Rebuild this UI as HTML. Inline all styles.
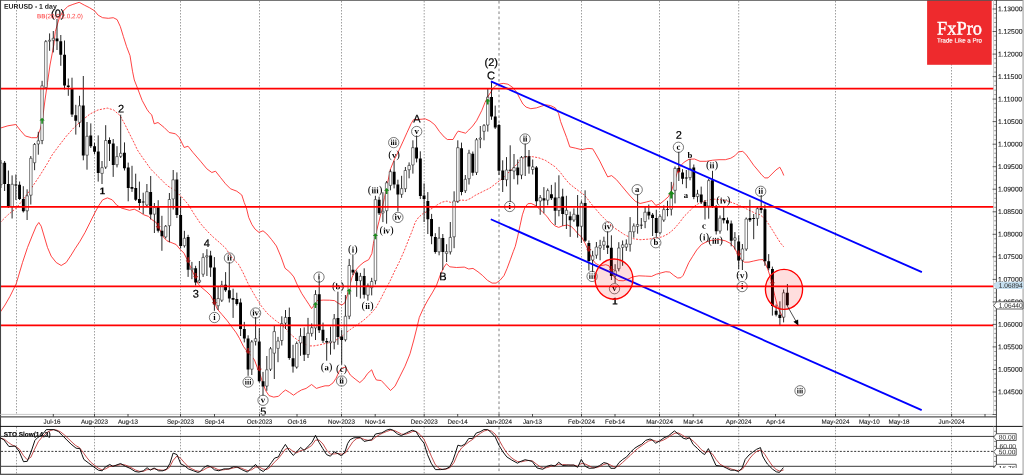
<!DOCTYPE html>
<html lang="en"><head><meta charset="utf-8"><title>EURUSD - 1 day</title><style>html,body{margin:0;padding:0;background:#fff;overflow:hidden}body{width:1024px;height:475px;position:relative}</style></head><body>
<svg width="1024" height="475" viewBox="0 0 1024 475" text-rendering="geometricPrecision" style="display:block;position:absolute;left:0;top:0">
<rect width="1024" height="475" fill="#fff"/>
<g stroke="#777" stroke-width="0.7" stroke-dasharray="1.5 1.5" fill="none">
<path d="M16.5 1V414.4 M16.5 426.9V473.7"/>
<path d="M94.5 1V414.4 M94.5 426.9V473.7"/>
<path d="M180.5 1V414.4 M180.5 426.9V473.7"/>
<path d="M259.5 1V414.4 M259.5 426.9V473.7"/>
<path d="M341.5 1V414.4 M341.5 426.9V473.7"/>
<path d="M424.2 1V414.4 M424.2 426.9V473.7"/>
<path stroke="#606060" stroke-width="0.8" stroke-dasharray="2.6 2.6" d="M499 1V414.4 M499 426.9V473.7"/>
<path d="M581.5 1V414.4 M581.5 426.9V473.7"/>
<path d="M659.5 1V414.4 M659.5 426.9V473.7"/>
<path d="M738.7 1V414.4 M738.7 426.9V473.7"/>
<path d="M835.5 1V414.4 M835.5 426.9V473.7"/>
<path d="M951.5 1V414.4 M951.5 426.9V473.7"/>
</g>
<g fill="none" stroke="#f22" stroke-width="0.85" stroke-linejoin="round">
<polyline points="0,128.2 7.9,125.8 15.8,124.5 20.5,130.5 25.3,136 31.6,137.7 37.1,137.7 40.3,129 42.3,120.8 45,100 47.5,82.5 50,65 53.8,45 55.3,31.6 59,18.9 62.8,11.4 67.9,6.3 72.9,4.4 79.2,2.3 84.3,5.1 89.3,7.6 94.4,10.7 98.2,15.2 102.6,17.7 108.3,18.3 113.3,17.7 117.1,19.6 120.3,26.5 123.4,36.6 126.6,46.7 130,55.6 132.5,71.2 134.3,80 137.4,87.9 142.2,100.5 146.9,109.2 149.2,112.5 151.7,114.8 154.2,123.8 158,122.5 164.2,127.5 169.2,132.5 175.5,133.8 179.2,137.5 184.2,147.5 188,146.2 193,152.5 200.5,161.2 206.8,168.8 211.8,172.5 215.5,171.2 220.5,177.5 225.5,183.8 230.5,188.8 236.8,191.2 241.8,195 244.2,202.5 246.4,207.9 248.7,217.4 251.9,224.5 255.1,229.2 259,232.4 263,230.8 266.9,234 271.6,239.6 276.4,246 281.1,257.1 285,268.2 289.8,272.1 293.8,276.9 296.9,284 301.7,293.4 305.8,299.7 309,304.5 311.6,308.6 315,303.9 317.2,300.5 323.2,300.1 329.5,300.2 334.5,300.6 338.2,303.2 341.8,305.1 345,302.6 347.4,294.5 349.7,285.8 352.1,277.1 355.3,270.8 359.2,266.1 364,262.1 368.7,259.7 371.9,253.5 373.4,243.4 375.8,234 379,221.3 382.1,208.7 384.5,197.6 386.9,186 390.6,168.7 394.5,159.2 399.2,149.8 403.2,141.1 407.1,132.4 411.1,123.7 413.5,119.7 419,119.4 425.3,118.9 430,121 434.8,124.8 439.5,131.6 444.3,137.1 447.4,139.5 453,139.5 456.1,134 458.2,131.1 461.6,132.1 465.6,133.2 468.8,130 472.7,126 476.7,120.5 479.5,115 481.9,110.3 485,102.4 488.2,96.1 491.3,91.3 494.5,86.6 498.4,84.2 503.2,83.4 507.9,84.2 512.7,87.4 516.6,92.1 519.8,98.4 522.9,104 526.1,107.1 530.8,108.7 536.4,107.9 541.1,106.3 545.8,104.8 550.6,105.6 555.3,107.9 558.5,113.4 560.6,121.5 563.4,129 566.6,137.4 569.8,146.9 575.3,148.1 581.6,149.7 587.9,148.4 592.7,148.8 595.8,154 599.8,161.1 603.7,169 607.7,176.9 611.6,175.6 616.4,179.6 621.1,185.2 625.9,191 630.2,196 635.3,201.3 640.1,203.5 646.3,202 651.8,200.6 655.8,205.4 660,203.8 664.5,200.2 668.4,196.7 671.6,190.6 674,182.7 677.1,173.2 680.3,166.1 684.2,162.1 689,159.3 694.5,159 700,161.3 706.4,161.3 712.7,160.2 719,159.7 725.3,159.7 730.8,158.2 734.8,155.8 738.7,151.8 742.7,151.4 745.8,154.2 749.8,159.7 753.7,165.3 757.7,170 761.6,174.8 764.8,177.9 768,177.9 771.9,174 775.9,170 779.8,167.2 782.2,171.6 783.8,175.5"/>
<polyline points="0,312.5 5,305 10,296.3 16.2,283.8 22.5,262.5 27.5,247.5 32.5,235 36.2,226.2 38.8,222.5 41.2,226.2 43.8,235 47.5,247.5 51.2,256.2 56.2,262.5 61.2,265.5 66.2,262.5 71.2,255 75,248.8 80,241.2 85,232.5 90,222.5 95,212.5 98.8,205.5 102.7,199.8 107.4,197.9 112.2,199.8 116.9,205.3 121.6,208.1 129.5,210.3 134.3,209.2 139,211.6 143.8,214.8 148.5,216.4 151.7,219.5 156.4,222.7 160,230 163.8,237.5 167,240.8 172.1,242.9 176.1,244.5 180,249.2 184,253.2 187.9,261.1 191.1,268.2 195,276.9 198.2,284 202.1,287.9 206.9,291.9 210.6,295.6 214.2,302.1 217.4,309.2 222.1,314.7 226.9,320.3 231.6,326.6 236.3,332.9 239.5,338.4 243.4,346.3 247.4,351.9 251.3,355.8 254.5,360 257.1,367.1 260.3,375 262.7,382.9 265.8,390.8 269,395.6 273.7,397.1 278.5,396.3 282.4,392.4 285.6,390 289.5,392.4 293.5,395.2 297.4,392.4 301.4,390 306.1,388.4 311.6,384.5 316.4,388.4 321.1,386.9 325.1,385.8 329,385.8 333,382.9 336.1,378.2 339.3,371.1 342.4,367.9 345.6,367.1 348,371.1 350.3,375 355.1,379 359.8,382.6 363.8,379 367.7,373.4 371.7,369.8 374,375.8 376.4,380 381.2,380.5 385,384.5 390.5,390.5 395,386.2 400,376.2 405,366.2 410,353.8 413.8,340 416.8,328 419.3,317.4 423.2,308.7 427.9,300 432.7,292.1 436.6,285 440.6,274 443.7,267.6 446.4,263.7 449.8,266.8 456.4,267.5 464.3,267.1 468.7,269 473,268.4 478,271.8 482.7,275.6 487.4,280.3 492.1,283.1 496.1,283.1 500,280.3 504,275.6 507.1,268.4 510.3,259.8 513.3,251.5 515.3,246.3 517.6,236.9 520,225.8 522.4,214.8 524.8,207.6 527.9,203.7 531.1,203.4 535,205.3 539,208.4 542.9,212.4 546.9,216.3 550.8,221.9 554.8,225.8 558.7,227.4 562.7,225.8 567.4,225 571.3,226.6 575.3,230.5 578.5,234.5 581.6,237 585.3,243.7 588.4,251 591.6,258 595.5,263.4 600.3,265.8 605.8,264.7 609,265.8 612.1,272.9 614.5,277.7 618.5,280.5 623.2,280.8 627.9,279.2 632.7,276.9 639,275.8 645.3,276.1 651.6,276.4 656.4,274.2 661.1,272.9 665.8,271.7 669.8,272.1 673.7,275.3 677.7,278 680.9,277.7 683.2,275.3 685.6,269.8 688.8,262.6 692.7,256.3 696.7,250 701.4,244.6 706.9,241.6 711.7,240.3 719,239.5 725.3,240.8 730,243.2 734,247.1 737.4,253.5 740.8,259 744.5,262.2 749,262.1 753.7,261 759.2,259.8 763,259.6 765.3,263.4 767.7,269 770,276.1 772.4,285.5 774.8,295.8 777.1,304.5 779.5,310.8 781.9,315.6 783.5,317.9"/>
<polyline stroke-dasharray="2 1.4" points="0,222.7 7.9,214.8 15.8,208.5 23.7,199 31.6,187.9 39.5,176.1 47.4,163.4 52.1,155 58.5,146.3 66.4,136.1 74.2,127.4 82.1,120.3 90,114 97.9,110 107.4,108.1 113.7,110 120,115.5 124.8,124.2 129.5,133.7 134.3,143.2 137.4,150 142.2,157.1 150.1,168.2 151.6,170 159.5,177.9 167.4,185.8 175.3,190.5 181.6,196.9 187.9,204 194.2,214.2 200.6,223.7 206.9,230.8 213.2,237.1 219.5,242.5 225.8,248.4 232.1,257.9 238.5,264.2 243.2,272.9 247.9,283.2 252.7,291.9 257.4,299.8 261.4,306.1 263.2,308.4 267.9,314 274.3,319.5 280.6,324.2 286.1,329 290.8,334.5 296.4,339.2 302.7,343.2 309,345.9 313.7,345.9 320,344.8 326.4,343.2 332.7,342.4 337.4,339.2 342.2,336.1 346.9,332.1 351.7,328.5 356.9,325 363.2,320.6 369.5,315 375.8,307.9 380.6,299.2 385.3,289.8 390,281.1 394.8,270.8 399.5,261.5 404.3,250.6 409,238.7 412.2,230.8 415.3,222.1 418.5,217.4 423.2,213.4 427.9,211.1 432.7,207.9 437.4,204.7 442.2,202.1 446.9,201.1 451.6,202.7 456.4,201.6 461.1,200 465.9,200.5 470.6,198.4 475.3,195.3 480.1,192.9 484.8,190.5 490,188 496.3,183.2 502.6,178.5 509,172.1 515.3,165.8 521.6,158.7 527.1,156.3 532.7,156.7 539,157.9 545.3,160.3 550,163.4 554.8,166.6 559.5,171.3 564.3,177.7 569,183.4 573.7,187.1 578.5,190.8 583.2,194 586.4,197.4 591.1,203.7 595.8,209.2 600.6,214.8 605.3,219.5 610.1,224.2 614.8,228.2 619.5,231.3 624.3,234.5 629,236.9 633.8,238.8 640.1,239.7 647.9,239.2 655.8,238 662.1,236.9 668.4,233.7 674,229 679.5,222.6 684.2,216.3 689,211.6 693.7,206.8 698.4,203.7 703.2,201.6 709.5,199.7 714.3,199.2 720.6,199.7 726.9,200.8 733.2,203 739.5,205.6 745.8,208.6 752.2,211.7 757,214 760,214.7 764.8,218.7 768.7,224.2 772.7,230.5 776.6,236.9 780.6,243.2 783.7,246.8"/>
</g>
<path d="M0.9 160V188M4.6 161V191M8.4 170.5V208M12.1 175.4V218.5M15.9 174.5V200M19.6 181.5V200M23.3 186.2V212.5M27.1 189.3V220M30.8 156V204.5M34.6 143V170.2M38.3 131.8V154.7M42.1 80.8V144.2M45.8 40V89M49.6 33.4V50.8M53.3 31V52.4M57 19V50M60.8 35V65.8M64.5 40.5V89.5M68.3 78.5V95.8M72 77.7V117M75.8 104.8V134.6M79.5 95.8V127.2M83.3 76V160.3M87 122V169.7M90.8 123.4V148M94.5 143V154M98.2 135.4V181.6M102 161V184M105.7 125.2V169M109.5 137.4V161M113.2 139V176.9M117 146.2V167.4M120.7 114.7V158M124.5 142.4V170.5M128.2 162.6V201.3M132 165.8V191.9M135.7 173.7V201M139.4 181.6V210M143.2 192.7V214M146.9 184V206.5M150.7 176V219.5M154.4 203V233M158.2 200.2V232.5M161.9 215.8V250.8M165.7 225V238.5M169.4 193V242.3M173.2 170V209.5M176.9 172.4V218M180.6 197V248.4M184.4 230.8V247.6M188.1 234.8V276.9M191.9 261.9V279.2M195.6 265.8V285.5M199.4 261V283.2M203.1 253.2V276.9M206.9 249.2V276M210.6 250.8V276.9M214.4 257.1V310.8M218.1 286.3V310M221.8 280.8V302M225.6 272.1V291.9M229.3 261.9V302.5M233.1 288.7V317.9M236.8 292.7V305.5M240.6 298.5V336M244.3 321.9V342.4M248.1 335.3V375.8M251.8 340V375M255.6 317V345.5M259.3 328.2V382.5M263 371.9V395.6M266.8 356V390.8M270.5 347V371M274.3 325.8V379M278 336.9V362.2M281.8 316.3V345.5M285.5 310V329M289.3 307.6V359.8M293 344.8V372.6M296.7 341.5V368.7M300.5 328.2V355.8M304.2 327.4V361M308 317.9V358M311.7 323.4V336.5M315.5 290.2V340M319.2 280.3V333M323 322.6V343M326.7 338V360.7M330.5 326.6V354.7M334.2 314V349.3M337.9 291.7V344.8M341.7 330V364.6M345.4 295V341.5M349.2 258.9V319.2M352.9 254.4V275M356.7 270.5V296.8M360.4 272.9V298.5M364.2 268.3V298.5M367.9 283.5V300.6M371.7 277.8V295.4M375.4 195.8V284.5M379.1 196.6V215M382.9 192.2V222.1M386.6 181V223.7M390.4 169.5V190.3M394.1 160.8V188.4M397.9 179.7V211.5M401.6 175.8V197.8M405.4 167V192.1M409.1 162.4V178.3M412.9 140.3V173.6M416.6 135.5V162.4M420.3 151.3V199M424.1 183.4V222M427.8 192.1V234M431.6 213.9V244.2M435.3 233.2V253.7M439.1 226.9V255.3M442.8 234V270M446.6 244.2V262M450.3 222V254.5M454.1 191.3V248.2M457.8 140.3V203M461.5 142.6V195.3M465.3 175V193M469 149.8V184.5M472.8 151.5V175.8M476.5 138V175M480.3 126V148.2M484 124V140.3M487.8 89V131.6M491.5 81.9V119.8M495.2 105.6V129M499 124V175M502.7 160.3V192M506.5 157.1V186.3M510.2 145.3V202M514 154V179.2M517.7 159.5V184.5M521.5 156V179.2M525.2 143.7V176M529 150V173.7M532.7 159.5V174.5M536.4 166V206M540.2 195V214.8M543.9 187.1V213.2M547.7 188.5V205.3M551.4 184.9V200M555.2 182.4V225M558.9 175.3V216.3M562.7 188.7V225.8M566.4 195.8V229M570.2 211.6V236.9M573.9 208.4V221.9M577.6 195V237.7M581.4 200.5V243M585.1 190.3V242M588.9 240.5V270.5M592.6 250.8V272.1M596.4 242V258.7M600.1 239.8V260.3M603.9 236.7V250M607.6 231.3V254M611.4 235.3V280M615.1 264.2V283.2M618.8 242.2V271.3M622.6 240.5V265.8M626.3 239.4V250.9M630.1 217.1V251.6M633.8 223.4V237.7M637.6 194.2V233.7M641.3 218V229M645.1 206.9V228.2M648.8 204.5V219.5M652.6 213V236M656.3 209.7V236.9M660 214.5V234.5M663.8 205.4V221.9M667.5 200.8V216.3M671.3 181.9V215.5M675 166.5V203.4M678.8 151.8V181M682.5 169.2V184.2M686.3 170V188.2M690 159V180.3M693.8 164.5V199.2M697.5 189.8V202.4M701.2 186.6V204M705 200V219.5M708.7 179V218.7M712.5 170.8V208M716.2 205V234.5M720 215.5V233.7M723.7 206V223.4M727.5 217.5V230.5M731.2 220.5V246.3M734.9 232.1V249.5M738.7 235.3V269.2M742.4 244V270M746.2 217.5V251M749.9 199.7V222M753.7 214V239.2M757.4 207V225.8M761.2 195V213.2M764.9 204.5V265.8M768.7 254.1V270.3M772.4 266.6V315.6M776.1 304.5V316.4M779.9 301.3V325M783.6 289.5V322.4M787.4 284V306.1" stroke="#111" stroke-width="0.9" fill="none"/>
<path d="M3.2 162.7h2.9V184h-2.9zM6.9 184h2.9V206.9h-2.9zM14.4 184.5h2.9V185.4h-2.9zM18.1 184.8h2.9V199h-2.9zM21.9 199h2.9V211.3h-2.9zM55.6 38.6h2.9V41.3h-2.9zM59.3 41.3h2.9V54.8h-2.9zM63.1 54.8h2.9V85.6h-2.9zM66.8 85.6h2.9V87h-2.9zM70.6 88.5h2.9V114.6h-2.9zM74.3 115.3h2.9V120.8h-2.9zM81.8 105.5h2.9V155.5h-2.9zM89.3 135.4h2.9V146.2h-2.9zM93.1 146.2h2.9V151.8h-2.9zM96.8 151.5h2.9V172.9h-2.9zM108 139.9h2.9V143.8h-2.9zM111.8 143.4h2.9V165h-2.9zM123 152.7h2.9V168.2h-2.9zM126.8 167.4h2.9V187.9h-2.9zM130.5 187h2.9V188.7h-2.9zM134.3 187.9h2.9V199.8h-2.9zM138 199h2.9V202.9h-2.9zM141.7 201.5h2.9V202.4h-2.9zM149.2 191.9h2.9V214.5h-2.9zM156.7 206h2.9V230.8h-2.9zM160.5 230.8h2.9V236.3h-2.9zM175.4 179.5h2.9V215h-2.9zM179.2 215h2.9V246h-2.9zM186.7 237h2.9V269.8h-2.9zM194.2 268.2h2.9V282.4h-2.9zM209.2 255.5h2.9V267.4h-2.9zM212.9 267.4h2.9V304.5h-2.9zM224.1 284.8h2.9V290.3h-2.9zM227.9 290.3h2.9V298.5h-2.9zM231.6 298h2.9V299.8h-2.9zM235.4 299h2.9V303.9h-2.9zM239.1 302.5h2.9V329h-2.9zM242.9 329h2.9V338.4h-2.9zM246.6 338.4h2.9V369.5h-2.9zM257.8 341.6h2.9V381.3h-2.9zM261.6 381.3h2.9V386.4h-2.9zM287.8 317.1h2.9V358h-2.9zM291.6 358.2h2.9V366.6h-2.9zM302.8 336h2.9V354.8h-2.9zM317.8 294.2h2.9V330.3h-2.9zM321.5 329.8h2.9V340.8h-2.9zM325.3 341h2.9V342.6h-2.9zM336.5 318h2.9V336.9h-2.9zM340.2 336.5h2.9V340h-2.9zM351.5 269.8h2.9V272.5h-2.9zM355.2 272.5h2.9V281h-2.9zM362.7 276h2.9V294.7h-2.9zM377.7 199.8h2.9V213.2h-2.9zM392.7 171.7h2.9V184.6h-2.9zM396.4 184.6h2.9V194.6h-2.9zM415.1 147.4h2.9V158.4h-2.9zM418.9 158.4h2.9V196h-2.9zM422.6 195.6h2.9V199.1h-2.9zM426.4 200.9h2.9V219.2h-2.9zM430.1 219h2.9V236.3h-2.9zM433.9 237.1h2.9V252.1h-2.9zM441.4 237.9h2.9V252.1h-2.9zM460.1 148.2h2.9V192h-2.9zM471.3 153.7h2.9V172.7h-2.9zM490.1 96.9h2.9V116.6h-2.9zM493.8 116.6h2.9V127.5h-2.9zM497.5 125h2.9V170.8h-2.9zM501.3 170.6h2.9V180h-2.9zM508.8 169.8h2.9V170.7h-2.9zM516.3 167.4h2.9V175.3h-2.9zM523.8 156.4h2.9V157.3h-2.9zM527.5 156.3h2.9V166.6h-2.9zM535 167.4h2.9V201.3h-2.9zM542.5 198.2h2.9V200.5h-2.9zM550 194.2h2.9V198.2h-2.9zM553.7 197.4h2.9V210.8h-2.9zM561.2 196.6h2.9V214h-2.9zM568.7 216.3h2.9V220.3h-2.9zM576.2 214.8h2.9V226.6h-2.9zM583.7 202.9h2.9V240.8h-2.9zM587.4 243h2.9V261h-2.9zM606.2 245.4h2.9V247.7h-2.9zM609.9 247.7h2.9V276.1h-2.9zM639.9 224.7h2.9V225.6h-2.9zM647.4 211.7h2.9V215.5h-2.9zM651.1 214.7h2.9V218h-2.9zM654.8 218h2.9V233h-2.9zM666.1 209.2h2.9V210.1h-2.9zM677.3 168.1h2.9V171.6h-2.9zM681.1 172.4h2.9V178.7h-2.9zM684.8 177.6h2.9V178.5h-2.9zM692.3 167.6h2.9V196.9h-2.9zM699.8 194.5h2.9V202.2h-2.9zM703.5 202h2.9V206h-2.9zM711 180.3h2.9V206.3h-2.9zM714.8 206.3h2.9V231.3h-2.9zM722.3 217.9h2.9V220.3h-2.9zM726 220.3h2.9V223.4h-2.9zM729.8 223.4h2.9V240.8h-2.9zM737.2 241.6h2.9V260.5h-2.9zM748.5 217.9h2.9V220.3h-2.9zM752.2 218h2.9V218.9h-2.9zM759.7 208h2.9V210h-2.9zM763.5 209.2h2.9V261.2h-2.9zM767.2 261.2h2.9V268.3h-2.9zM771 269h2.9V306h-2.9zM774.7 310.8h2.9V314.8h-2.9zM778.4 314.8h2.9V318h-2.9zM785.9 292.7h2.9V305.3h-2.9z" fill="#000"/>
<path d="M-0.4 163h2.5V184.7h-2.5zM10.9 184.3h2.5V206.6h-2.5zM25.9 195.8h2.5V210.8h-2.5zM29.6 158.3h2.5V195.2h-2.5zM33.3 144.5h2.5V162.7h-2.5zM37.1 140.8h2.5V143.9h-2.5zM40.8 85.8h2.5V140.5h-2.5zM44.6 41.6h2.5V87.7h-2.5zM48.3 40.3h2.5V41.2h-2.5zM52.1 38.3h2.5V40.2h-2.5zM78.3 105.8h2.5V122.3h-2.5zM85.8 136.3h2.5V155.2h-2.5zM100.8 167.7h2.5V173.4h-2.5zM104.5 140.5h2.5V167.1h-2.5zM115.7 156.6h2.5V164.7h-2.5zM119.5 153.3h2.5V156.3h-2.5zM145.7 191.7h2.5V205h-2.5zM153.2 207.6h2.5V214.2h-2.5zM164.4 226.3h2.5V236.9h-2.5zM168.2 199.5h2.5V225.7h-2.5zM171.9 179.8h2.5V198.9h-2.5zM183.2 238.3h2.5V245.7h-2.5zM190.7 268.3h2.5V269.7h-2.5zM198.1 280.3h2.5V282.1h-2.5zM201.9 257.4h2.5V274.2h-2.5zM205.6 255.8h2.5V256.9h-2.5zM216.9 298.5h2.5V305.7h-2.5zM220.6 285.1h2.5V300.2h-2.5zM250.6 341.9h2.5V369.2h-2.5zM254.3 338.7h2.5V341.3h-2.5zM265.6 369.8h2.5V386.1h-2.5zM269.3 348.8h2.5V369.2h-2.5zM273 331.6h2.5V353.2h-2.5zM276.8 341.1h2.5V348.4h-2.5zM280.5 323.7h2.5V340.5h-2.5zM284.3 317.4h2.5V323.1h-2.5zM295.5 343.5h2.5V367.1h-2.5zM299.3 336.3h2.5V342.9h-2.5zM306.8 333.2h2.5V354.5h-2.5zM310.5 327.7h2.5V333.4h-2.5zM314.2 294.5h2.5V327.9h-2.5zM329.2 341.3h2.5V342.7h-2.5zM333 318.8h2.5V342.1h-2.5zM344.2 316.3h2.5V339.7h-2.5zM348 265.5h2.5V316.2h-2.5zM359.2 276.3h2.5V280.7h-2.5zM366.7 285.5h2.5V295.1h-2.5zM370.4 281.5h2.5V287.7h-2.5zM374.2 199.6h2.5V280.7h-2.5zM381.7 211.3h2.5V212.9h-2.5zM385.4 182.8h2.5V210.7h-2.5zM389.2 171.7h2.5V185.4h-2.5zM400.4 188.6h2.5V194.3h-2.5zM404.1 170.5h2.5V188.7h-2.5zM407.9 165.4h2.5V169.7h-2.5zM411.6 147.7h2.5V164.9h-2.5zM437.8 238.2h2.5V251.8h-2.5zM445.3 251.7h2.5V253.4h-2.5zM449.1 237.4h2.5V251.8h-2.5zM452.8 201.1h2.5V236.8h-2.5zM456.6 147.7h2.5V201.3h-2.5zM464.1 179.3h2.5V190.7h-2.5zM467.8 153.2h2.5V178.7h-2.5zM475.3 139.8h2.5V172.4h-2.5zM479 138.1h2.5V139.2h-2.5zM482.8 125.6h2.5V131.3h-2.5zM486.5 97.2h2.5V125h-2.5zM505.3 170.1h2.5V179.7h-2.5zM512.7 167.7h2.5V171h-2.5zM520.2 157.4h2.5V175h-2.5zM531.5 166.9h2.5V169.5h-2.5zM539 197.7h2.5V201h-2.5zM546.5 190.6h2.5V200.2h-2.5zM557.7 197.7h2.5V210.5h-2.5zM565.2 210.3h2.5V214.5h-2.5zM572.7 214.3h2.5V220h-2.5zM580.2 203.2h2.5V226.3h-2.5zM591.4 255.8h2.5V260h-2.5zM595.1 247.1h2.5V255.2h-2.5zM598.9 245.7h2.5V248h-2.5zM602.6 241.3h2.5V245.1h-2.5zM613.9 270.8h2.5V276h-2.5zM617.6 248h2.5V268.7h-2.5zM621.4 244.9h2.5V247.4h-2.5zM625.1 244.1h2.5V247.1h-2.5zM628.9 231.6h2.5V244.3h-2.5zM632.6 226.1h2.5V231.8h-2.5zM636.3 224.5h2.5V226.3h-2.5zM643.8 212.2h2.5V221.6h-2.5zM658.8 216.6h2.5V232.7h-2.5zM662.6 209.6h2.5V220h-2.5zM670 194h2.5V209.2h-2.5zM673.8 168.4h2.5V190.3h-2.5zM688.8 168.7h2.5V177.6h-2.5zM696.3 194h2.5V196.6h-2.5zM707.5 180.6h2.5V206.1h-2.5zM718.7 218.2h2.5V231h-2.5zM733.7 237.9h2.5V240.1h-2.5zM741.2 249h2.5V260.2h-2.5zM745 219h2.5V249h-2.5zM756.2 208.7h2.5V218.4h-2.5zM782.4 292.8h2.5V317.2h-2.5z" fill="#fff" stroke="#111" stroke-width="0.54"/>
<g font-family="'Liberation Sans',Arial,sans-serif" font-size="11" fill="#000" stroke="#000" stroke-width="0.2" text-anchor="middle">
<text transform="rotate(.05 57.8 17.2)" x="57.8" y="17.2">(0)</text>
<text transform="rotate(.05 121 112.5)" x="121" y="112.5">2</text>
<text transform="rotate(.05 206.9 246.9)" x="206.9" y="246.9">4</text>
<text transform="rotate(.05 195.8 297.4)" x="195.8" y="297.4">3</text>
<text transform="rotate(.05 263.4 415.2)" x="263.4" y="415.2">5</text>
<text transform="rotate(.05 416.9 122.5)" x="416.9" y="122.5">A</text>
<text transform="rotate(.05 443 280.2)" x="443" y="280.2">B</text>
<text transform="rotate(.05 491.3 66)" x="491.3" y="66">(2)</text>
<text transform="rotate(.05 491 79.2)" x="491" y="79.2">C</text>
<text transform="rotate(.05 678.7 138.8)" x="678.7" y="138.8">2</text>
<text transform="rotate(.05 102.4 194.2)" x="102.4" y="194.2" font-weight="bold" font-size="9.5">1</text>
<text transform="rotate(.05 614.8 304.6)" x="614.8" y="304.6" font-weight="bold" font-size="9.5">1</text>
</g>
<g font-family="'Liberation Serif','Times New Roman',serif" font-weight="bold" font-size="8.7" fill="#000" text-anchor="middle">
<text transform="rotate(.05 352.9 252.6)" x="352.9" y="252.6"><tspan font-size="11" font-weight="normal">(</tspan><tspan>i</tspan><tspan font-size="11" font-weight="normal">)</tspan></text>
<text transform="rotate(.05 367.6 309.1)" x="367.6" y="309.1"><tspan font-size="11" font-weight="normal">(</tspan><tspan>ii</tspan><tspan font-size="11" font-weight="normal">)</tspan></text>
<text transform="rotate(.05 375 193.3)" x="375" y="193.3"><tspan font-size="11" font-weight="normal">(</tspan><tspan>iii</tspan><tspan font-size="11" font-weight="normal">)</tspan></text>
<text transform="rotate(.05 386.6 233.6)" x="386.6" y="233.6"><tspan font-size="11" font-weight="normal">(</tspan><tspan>iv</tspan><tspan font-size="11" font-weight="normal">)</tspan></text>
<text transform="rotate(.05 394.2 158.1)" x="394.2" y="158.1"><tspan font-size="11" font-weight="normal">(</tspan><tspan>v</tspan><tspan font-size="11" font-weight="normal">)</tspan></text>
<text transform="rotate(.05 326.6 370.2)" x="326.6" y="370.2"><tspan font-size="11" font-weight="normal">(</tspan><tspan>a</tspan><tspan font-size="11" font-weight="normal">)</tspan></text>
<text transform="rotate(.05 338 289.3)" x="338" y="289.3"><tspan font-size="11" font-weight="normal">(</tspan><tspan>b</tspan><tspan font-size="11" font-weight="normal">)</tspan></text>
<text transform="rotate(.05 341.6 372)" x="341.6" y="372"><tspan font-size="11" font-weight="normal">(</tspan><tspan>c</tspan><tspan font-size="11" font-weight="normal">)</tspan></text>
<text transform="rotate(.05 704.2 240.3)" x="704.2" y="240.3"><tspan font-size="11" font-weight="normal">(</tspan><tspan>i</tspan><tspan font-size="11" font-weight="normal">)</tspan></text>
<text transform="rotate(.05 712 168.3)" x="712" y="168.3"><tspan font-size="11" font-weight="normal">(</tspan><tspan>ii</tspan><tspan font-size="11" font-weight="normal">)</tspan></text>
<text transform="rotate(.05 715.5 243.7)" x="715.5" y="243.7"><tspan font-size="11" font-weight="normal">(</tspan><tspan>iii</tspan><tspan font-size="11" font-weight="normal">)</tspan></text>
<text transform="rotate(.05 723.4 203.4)" x="723.4" y="203.4"><tspan font-size="11" font-weight="normal">(</tspan><tspan>iv</tspan><tspan font-size="11" font-weight="normal">)</tspan></text>
<text transform="rotate(.05 742.1 278.3)" x="742.1" y="278.3"><tspan font-size="11" font-weight="normal">(</tspan><tspan>v</tspan><tspan font-size="11" font-weight="normal">)</tspan></text>
<text transform="rotate(.05 685.8 197.9)" x="685.8" y="197.9">a</text>
<text transform="rotate(.05 689.8 158)" x="689.8" y="158">b</text>
<text transform="rotate(.05 704 228.4)" x="704" y="228.4">c</text>
<circle cx="214.5" cy="317.5" r="5.15" fill="none" stroke="#222" stroke-width="0.6"/>
<text transform="rotate(.05 214.5 319.9)" x="214.5" y="319.9" font-size="8.7">i</text>
<circle cx="229.4" cy="258" r="5.15" fill="none" stroke="#222" stroke-width="0.6"/>
<text transform="rotate(.05 229.4 260.4)" x="229.4" y="260.4" font-size="8.7">ii</text>
<circle cx="248.1" cy="382.1" r="5.15" fill="none" stroke="#222" stroke-width="0.6"/>
<text transform="rotate(.05 248.1 384.5)" x="248.1" y="384.5" font-size="7.8">iii</text>
<circle cx="255.6" cy="313" r="5.15" fill="none" stroke="#222" stroke-width="0.6"/>
<text transform="rotate(.05 255.6 315.4)" x="255.6" y="315.4" font-size="8.7">iv</text>
<circle cx="263" cy="400.3" r="5.15" fill="none" stroke="#222" stroke-width="0.6"/>
<text transform="rotate(.05 263 402.7)" x="263" y="402.7" font-size="8.7">v</text>
<circle cx="319" cy="277.1" r="5.15" fill="none" stroke="#222" stroke-width="0.6"/>
<text transform="rotate(.05 319 279.5)" x="319" y="279.5" font-size="8.7">i</text>
<circle cx="341.6" cy="381" r="5.15" fill="none" stroke="#222" stroke-width="0.6"/>
<text transform="rotate(.05 341.6 383.4)" x="341.6" y="383.4" font-size="8.7">ii</text>
<circle cx="393.7" cy="142.6" r="5.15" fill="none" stroke="#222" stroke-width="0.6"/>
<text transform="rotate(.05 393.7 145)" x="393.7" y="145" font-size="7.8">iii</text>
<circle cx="397.9" cy="217.4" r="5.15" fill="none" stroke="#222" stroke-width="0.6"/>
<text transform="rotate(.05 397.9 219.8)" x="397.9" y="219.8" font-size="8.7">iv</text>
<circle cx="416.7" cy="131.5" r="5.15" fill="none" stroke="#222" stroke-width="0.6"/>
<text transform="rotate(.05 416.7 133.9)" x="416.7" y="133.9" font-size="8.7">v</text>
<circle cx="509.7" cy="206.5" r="5.15" fill="none" stroke="#222" stroke-width="0.6"/>
<text transform="rotate(.05 509.7 208.9)" x="509.7" y="208.9" font-size="8.7">i</text>
<circle cx="525.1" cy="139" r="5.15" fill="none" stroke="#222" stroke-width="0.6"/>
<text transform="rotate(.05 525.1 141.4)" x="525.1" y="141.4" font-size="8.7">ii</text>
<circle cx="592.1" cy="276.4" r="5.15" fill="none" stroke="#222" stroke-width="0.6"/>
<text transform="rotate(.05 592.1 278.8)" x="592.1" y="278.8" font-size="7.8">iii</text>
<circle cx="607.7" cy="226.9" r="5.15" fill="none" stroke="#222" stroke-width="0.6"/>
<text transform="rotate(.05 607.7 229.3)" x="607.7" y="229.3" font-size="8.7">iv</text>
<circle cx="614.5" cy="288.7" r="5.15" fill="none" stroke="#222" stroke-width="0.6"/>
<text transform="rotate(.05 614.5 291.1)" x="614.5" y="291.1" font-size="8.7">v</text>
<circle cx="637.2" cy="189.7" r="5.15" fill="none" stroke="#222" stroke-width="0.6"/>
<text transform="rotate(.05 637.2 192.1)" x="637.2" y="192.1" font-size="8.7">a</text>
<circle cx="655.8" cy="242.7" r="5.15" fill="none" stroke="#222" stroke-width="0.6"/>
<text transform="rotate(.05 655.8 245.1)" x="655.8" y="245.1" font-size="8.7">b</text>
<circle cx="678.4" cy="147.3" r="5.15" fill="none" stroke="#222" stroke-width="0.6"/>
<text transform="rotate(.05 678.4 149.7)" x="678.4" y="149.7" font-size="8.7">c</text>
<circle cx="742.1" cy="286.6" r="5.15" fill="none" stroke="#222" stroke-width="0.6"/>
<text transform="rotate(.05 742.1 289)" x="742.1" y="289" font-size="8.7">i</text>
<circle cx="760.7" cy="191.3" r="5.15" fill="none" stroke="#222" stroke-width="0.6"/>
<text transform="rotate(.05 760.7 193.7)" x="760.7" y="193.7" font-size="8.7">ii</text>
<circle cx="800" cy="390.8" r="5.15" fill="none" stroke="#222" stroke-width="0.6"/>
<text transform="rotate(.05 800 393.2)" x="800" y="393.2" font-size="7.8">iii</text>
</g>
<path d="M42.1 117.8l2.6 2.8h-1.8v3.2h-1.6v-3.2h-1.8z" fill="#1b8a1b"/>
<path d="M315.5 302l2.6 2.8h-1.8v3.2h-1.6v-3.2h-1.8z" fill="#1b8a1b"/>
<path d="M349.2 288.4l2.6 2.8h-1.8v3.2h-1.6v-3.2h-1.8z" fill="#1b8a1b"/>
<path d="M375.4 233.3l2.6 2.8h-1.8v3.2h-1.6v-3.2h-1.8z" fill="#1b8a1b"/>
<path d="M386.7 188l2.6 2.8h-1.8v3.2h-1.6v-3.2h-1.8z" fill="#1b8a1b"/>
<path d="M487.8 98.6l2.6 2.8h-1.8v3.2h-1.6v-3.2h-1.8z" fill="#1b8a1b"/>
<path d="M671.3 190.4l3.5 3.8h-2.4v4.3h-2.2v-4.3h-2.4z" fill="#1b8a1b"/>
<path d="M158.2 229l2.6 -2.8h-1.8v-3.2h-1.6v3.2h-1.8z" fill="#a01010"/>
<path d="M188.2 263.3l2.6 -2.8h-1.8v-3.2h-1.6v3.2h-1.8z" fill="#a01010"/>
<path d="M195.7 279l2.6 -2.8h-1.8v-3.2h-1.6v3.2h-1.8z" fill="#a01010"/>
<path d="M214.4 305l2.6 -2.8h-1.8v-3.2h-1.6v3.2h-1.8z" fill="#a01010"/>
<path d="M248.1 354l2.6 -2.8h-1.8v-3.2h-1.6v3.2h-1.8z" fill="#a01010"/>
<path d="M259.3 371.5l2.6 -2.8h-1.8v-3.2h-1.6v3.2h-1.8z" fill="#a01010"/>
<path d="M588.9 252l2.6 -2.8h-1.8v-3.2h-1.6v3.2h-1.8z" fill="#a01010"/>
<path d="M611.4 272l2.6 -2.8h-1.8v-3.2h-1.6v3.2h-1.8z" fill="#a01010"/>
<path d="M738.7 256.4l2.6 -2.8h-1.8v-3.2h-1.6v3.2h-1.8z" fill="#a01010"/>
<path d="M772.4 285.4l2.6 -2.8h-1.8v-3.2h-1.6v3.2h-1.8z" fill="#a01010"/>
<path d="M678.8 173.1l1.8 -2h-1.3v-2.2h-1.1v2.2h-1.3z" fill="#a01010"/>
<g stroke="#00f" stroke-width="1.85" stroke-linecap="butt">
<path d="M490.9 81.4L921.9 272.2"/>
<path d="M490.8 219.25L921.7 410.15"/>
</g>
<g stroke="#f00" stroke-width="1.75">
<path d="M1 88.5H993.6"/>
<path d="M1 206.8H993.6"/>
<path d="M1 286.4H993.6"/>
<path d="M1 325.4H993.6"/>
</g>
<ellipse cx="614" cy="279.1" rx="18.9" ry="20.1" fill="#f00" fill-opacity="0.13" stroke="#f00" stroke-width="1.35"/>
<ellipse cx="784" cy="289.3" rx="18.6" ry="20" fill="#f00" fill-opacity="0.13" stroke="#f00" stroke-width="1.35"/>
<path d="M787.4 306.1L796.2 321.6" stroke="#222" stroke-width="0.8"/>
<path d="M798.4 325.6L793.4 321.8L798.1 319.5z" fill="#000"/>
<text transform="rotate(.05 3.9 8.8)" x="3.9" y="8.8" font-family="'Liberation Sans',Arial,sans-serif" font-weight="bold" font-size="6.9" fill="#222">EURUSD - 1 day</text>
<text transform="rotate(.05 37 18.3)" x="37" y="18.3" font-family="'Liberation Sans',Arial,sans-serif" font-size="6.3" fill="#f33">BB(20,0,2.0,2.0)</text>
<rect x="927.1" y="0" width="64.6" height="64.8" fill="#ee2a2d"/>
<text transform="rotate(.05 959.5 34.5)" x="959.5" y="34.5" text-anchor="middle" font-family="'Liberation Serif','Times New Roman',serif" font-size="19" fill="#fff" stroke="#fff" stroke-width="0.4" textLength="45" lengthAdjust="spacingAndGlyphs">FxPro</text>
<text transform="rotate(.05 959.5 42.6)" x="959.5" y="42.6" text-anchor="middle" font-family="'Liberation Sans',Arial,sans-serif" font-size="6.2" fill="#fff" stroke="#fff" stroke-width="0.15" textLength="45" lengthAdjust="spacingAndGlyphs">Trade Like a Pro</text>
<rect x="994" y="0" width="30.4" height="475" fill="#fff"/>
<path d="M0 0.4H1024" stroke="#555" stroke-width="0.9"/>
<path d="M0.5 0V475" stroke="#444" stroke-width="1.1"/>
<path d="M993.6 0V414.4" stroke="#bbb" stroke-width="0.8"/>
<path d="M0 414.4H993.6" stroke="#bbb" stroke-width="0.8"/>
<path d="M996.4 0V468" stroke="#2a2a2a" stroke-width="0.9"/>
<path d="M0 416.8H996.2" stroke="#555" stroke-width="1.3"/>
<path d="M0 426.4H1024" stroke="#111" stroke-width="1"/>
<rect x="0" y="473.7" width="1024" height="1.3" fill="#555"/>
<rect x="1022.7" y="0" width="1.3" height="475" fill="#e2e2e2"/><rect x="1022.7" y="0" width="0.6" height="475" fill="#808080"/>
<path d="M993.6 426.4V468" stroke="#bbb" stroke-width="0.8"/>
<path d="M996.2 431.3h-2.2M996.2 441.4h-2.2M996.2 446.4h-2.2M996.2 456.4h-2.2M996.2 461.4h-2.2" stroke="#444" stroke-width="0.6"/>
<path d="M996.2 9h-3.6M996.2 31.5h-3.6M996.2 54.1h-3.6M996.2 76.6h-3.6M996.2 99.1h-3.6M996.2 121.6h-3.6M996.2 144.2h-3.6M996.2 166.7h-3.6M996.2 189.2h-3.6M996.2 211.8h-3.6M996.2 234.3h-3.6M996.2 256.8h-3.6M996.2 279.4h-3.6M996.2 301.9h-3.6M996.2 324.4h-3.6M996.2 346.9h-3.6M996.2 369.5h-3.6M996.2 392h-3.6M996.2 414.5h-3.6" stroke="#222" stroke-width="0.7"/>
<path d="M996.2 -0h-2M996.2 4.5h-2M996.2 13.5h-2M996.2 18h-2M996.2 22.5h-2M996.2 27h-2M996.2 36h-2M996.2 40.5h-2M996.2 45h-2M996.2 49.6h-2M996.2 58.6h-2M996.2 63.1h-2M996.2 67.6h-2M996.2 72.1h-2M996.2 81.1h-2M996.2 85.6h-2M996.2 90.1h-2M996.2 94.6h-2M996.2 103.6h-2M996.2 108.1h-2M996.2 112.6h-2M996.2 117.1h-2M996.2 126.2h-2M996.2 130.7h-2M996.2 135.2h-2M996.2 139.7h-2M996.2 148.7h-2M996.2 153.2h-2M996.2 157.7h-2M996.2 162.2h-2M996.2 171.2h-2M996.2 175.7h-2M996.2 180.2h-2M996.2 184.7h-2M996.2 193.7h-2M996.2 198.3h-2M996.2 202.8h-2M996.2 207.3h-2M996.2 216.3h-2M996.2 220.8h-2M996.2 225.3h-2M996.2 229.8h-2M996.2 238.8h-2M996.2 243.3h-2M996.2 247.8h-2M996.2 252.3h-2M996.2 261.3h-2M996.2 265.8h-2M996.2 270.3h-2M996.2 274.9h-2M996.2 283.9h-2M996.2 288.4h-2M996.2 292.9h-2M996.2 297.4h-2M996.2 306.4h-2M996.2 310.9h-2M996.2 315.4h-2M996.2 319.9h-2M996.2 328.9h-2M996.2 333.4h-2M996.2 337.9h-2M996.2 342.4h-2M996.2 351.5h-2M996.2 356h-2M996.2 360.5h-2M996.2 365h-2M996.2 374h-2M996.2 378.5h-2M996.2 383h-2M996.2 387.5h-2M996.2 396.5h-2M996.2 401h-2M996.2 405.5h-2M996.2 410h-2" stroke="#555" stroke-width="0.6"/>
<g font-family="'Liberation Sans',Arial,sans-serif" font-size="6.8" fill="#1a1a1a" stroke="#1a1a1a" stroke-width="0.1">
<text transform="rotate(.05 997.9 11.3)" x="997.9" y="11.3">1.13000</text>
<text transform="rotate(.05 997.9 33.8)" x="997.9" y="33.8">1.12500</text>
<text transform="rotate(.05 997.9 56.4)" x="997.9" y="56.4">1.12000</text>
<text transform="rotate(.05 997.9 78.9)" x="997.9" y="78.9">1.11500</text>
<text transform="rotate(.05 997.9 101.4)" x="997.9" y="101.4">1.11000</text>
<text transform="rotate(.05 997.9 123.9)" x="997.9" y="123.9">1.10500</text>
<text transform="rotate(.05 997.9 146.5)" x="997.9" y="146.5">1.10000</text>
<text transform="rotate(.05 997.9 169)" x="997.9" y="169">1.09500</text>
<text transform="rotate(.05 997.9 191.5)" x="997.9" y="191.5">1.09000</text>
<text transform="rotate(.05 997.9 214.1)" x="997.9" y="214.1">1.08500</text>
<text transform="rotate(.05 997.9 236.6)" x="997.9" y="236.6">1.08000</text>
<text transform="rotate(.05 997.9 259.1)" x="997.9" y="259.1">1.07500</text>
<text transform="rotate(.05 997.9 281.7)" x="997.9" y="281.7">1.07000</text>
<text transform="rotate(.05 997.9 304.2)" x="997.9" y="304.2">1.06500</text>
<text transform="rotate(.05 997.9 326.7)" x="997.9" y="326.7">1.06000</text>
<text transform="rotate(.05 997.9 349.2)" x="997.9" y="349.2">1.05500</text>
<text transform="rotate(.05 997.9 371.8)" x="997.9" y="371.8">1.05000</text>
<text transform="rotate(.05 997.9 394.3)" x="997.9" y="394.3">1.04500</text>
</g>
<path d="M53.3 416.6v-2.6M94.5 416.6v-2.6M128 416.6v-2.6M180.5 416.6v-2.6M214.5 416.6v-2.6M259.5 416.6v-2.6M297 416.6v-2.6M341.5 416.6v-2.6M375.2 416.6v-2.6M424.2 416.6v-2.6M457.7 416.6v-2.6M499 416.6v-2.6M532.5 416.6v-2.6M581.5 416.6v-2.6M615 416.6v-2.6M659.5 416.6v-2.6M693.2 416.6v-2.6M738.7 416.6v-2.6M775.5 416.6v-2.6M835.5 416.6v-2.6M869.3 416.6v-2.6M899 416.6v-2.6M951.6 416.6v-2.6M985 416.6v-2.6" stroke="#222" stroke-width="0.8"/>
<g font-family="'Liberation Sans',Arial,sans-serif" font-size="6.25" fill="#1a1a1a" stroke="#1a1a1a" stroke-width="0.12" text-anchor="middle">
<text transform="rotate(.05 52.1 423.7)" x="52.1" y="423.7">Jul-16</text>
<text transform="rotate(.05 94.5 423.7)" x="94.5" y="423.7">Aug-2023</text>
<text transform="rotate(.05 128 423.7)" x="128" y="423.7">Aug-13</text>
<text transform="rotate(.05 180.5 423.7)" x="180.5" y="423.7">Sep-2023</text>
<text transform="rotate(.05 214.5 423.7)" x="214.5" y="423.7">Sep-14</text>
<text transform="rotate(.05 259.5 423.7)" x="259.5" y="423.7">Oct-2023</text>
<text transform="rotate(.05 297 423.7)" x="297" y="423.7">Oct-16</text>
<text transform="rotate(.05 341.5 423.7)" x="341.5" y="423.7">Nov-2023</text>
<text transform="rotate(.05 375.2 423.7)" x="375.2" y="423.7">Nov-14</text>
<text transform="rotate(.05 424.2 423.7)" x="424.2" y="423.7">Dec-2023</text>
<text transform="rotate(.05 457.7 423.7)" x="457.7" y="423.7">Dec-14</text>
<text transform="rotate(.05 499 423.7)" x="499" y="423.7">Jan-2024</text>
<text transform="rotate(.05 532.5 423.7)" x="532.5" y="423.7">Jan-13</text>
<text transform="rotate(.05 581.5 423.7)" x="581.5" y="423.7">Feb-2024</text>
<text transform="rotate(.05 615 423.7)" x="615" y="423.7">Feb-14</text>
<text transform="rotate(.05 659.5 423.7)" x="659.5" y="423.7">Mar-2024</text>
<text transform="rotate(.05 693.2 423.7)" x="693.2" y="423.7">Mar-14</text>
<text transform="rotate(.05 738.7 423.7)" x="738.7" y="423.7">Apr-2024</text>
<text transform="rotate(.05 775.5 423.7)" x="775.5" y="423.7">Apr-14</text>
<text transform="rotate(.05 835.5 423.7)" x="835.5" y="423.7">May-2024</text>
<text transform="rotate(.05 869.3 423.7)" x="869.3" y="423.7">May-10</text>
<text transform="rotate(.05 899 423.7)" x="899" y="423.7">May-18</text>
<text transform="rotate(.05 951.6 423.7)" x="951.6" y="423.7">Jun-2024</text>
</g>
<path d="M1 436.4H996.2 M1 466.3H996.2" stroke="#222" stroke-width="0.9"/>
<path d="M1 451.4H996.2" stroke="#222" stroke-width="0.9" stroke-dasharray="2 1.6"/>
<polyline points="0.9,438.2 4.6,439.4 8.4,442.5 12.1,445 15.9,446.5 19.6,449.4 23.3,455.4 27.1,459.6 30.8,457.3 34.6,449.2 38.3,441.7 42.1,437 45.8,433.3 49.6,430.9 53.3,429.7 57,430.2 60.8,432 64.5,435 68.3,438.6 72,442.2 75.8,445.6 79.5,447.6 83.3,452.7 87,457.8 90.8,462.3 94.5,465.3 98.2,468.1 102,469.9 105.7,468.8 109.5,466.6 113.2,465.8 117,465.3 120.7,464.6 124.5,464.8 128.2,466.1 132,468.1 135.7,470.1 139.4,471.3 143.2,471.4 146.9,469.7 150.7,469.4 154.4,468.8 158.2,469.6 161.9,470.2 165.7,470.1 169.4,467.4 173.2,460.3 176.9,456 180.6,458.3 184.4,462.7 188.1,466.6 191.9,468.8 195.6,470.5 199.4,471.4 203.1,470.2 206.9,467.9 210.6,466.7 214.4,467.9 218.1,469.6 221.8,470 225.6,469.5 229.3,469 233.1,468 236.8,467.3 240.6,467.9 244.3,469.4 248.1,470.7 251.8,469.7 255.6,467.1 259.3,467.1 263,469.1 266.8,469.5 270.5,466.9 274.3,462.3 278,458.9 281.8,454.2 285.5,449 289.3,448.4 293,451.4 296.7,452.8 300.5,450.6 304.2,449.7 308,448 311.7,445.5 315.5,440.1 319.2,440.1 323,444 326.7,450.2 330.5,454.2 334.2,453.9 337.9,453.5 341.7,454.2 345.4,452.9 349.2,447.3 352.9,441.7 356.7,438.6 360.4,437.8 364.2,439.4 367.9,440.3 371.7,440.4 375.4,437.4 379.1,434.9 382.9,433 386.6,431.5 390.4,430.2 394.1,430.4 397.9,432.2 401.6,434.2 405.4,434.3 409.1,433 412.9,431.4 416.6,431.6 420.3,434.8 424.1,439.5 427.8,447.8 431.6,456.8 435.3,464.7 439.1,468.4 442.8,469.5 446.6,469 450.3,467.4 454.1,462.3 457.8,453.6 461.5,448 465.3,444.8 469,441.8 472.8,439.3 476.5,435.9 480.3,433.4 484,431 487.8,430 491.5,431.1 495.2,434.1 499,439.9 502.7,446.5 506.5,452.5 510.2,456.7 514,459.6 517.7,461.6 521.5,461.8 525.2,460.9 529,460.4 532.7,461.1 536.4,464.1 540.2,466.8 543.9,468.3 547.7,467.4 551.4,466.1 555.2,465.6 558.9,464.1 562.7,464.5 566.4,464.8 570.2,465.2 573.9,465.1 577.6,466.1 581.4,463.4 585.1,464 588.9,465.7 592.6,467.7 596.4,467.6 600.1,466.4 603.9,464.4 607.6,463.5 611.4,465.5 615.1,467.3 618.8,465.8 622.6,462.5 626.3,459.1 630.1,455.6 633.8,451.9 637.6,448.6 641.3,446 645.1,443.3 648.8,440.9 652.6,440.1 656.3,441.3 660,441.3 663.8,439.9 667.5,437.7 671.3,435.4 675,433.1 678.8,433.1 682.5,435.3 686.3,437.6 690,438.5 693.8,441.5 697.5,445.3 701.2,449.5 705,452.3 708.7,451.5 712.5,454 716.2,459.6 720,464.2 723.7,466.2 727.5,467.4 731.2,469 734.9,470 738.7,470.8 742.4,469.2 746.2,464 749.9,458.2 753.7,453.8 757.4,450.9 761.2,450 764.9,454.5 768.7,460.5 772.4,465.9 776.1,469.5 779.9,471.2 783.6,469.9" fill="none" stroke="#b62222" stroke-width="0.8"/>
<polyline points="0,437.8 3.8,439.7 8.9,446.5 15.2,446.1 19,451.2 23.5,461.7 27.3,461.3 31.1,451.8 34.9,440.4 38.1,437.2 41.9,435.3 46.3,429.6 53.9,429.6 58.4,431.5 62.2,435.3 66,439.1 71.1,444.2 76.1,448.2 79.9,448.6 81.9,454.3 83.8,459.4 88.8,463.2 93.9,467 98.4,470.2 102.2,470.8 105.3,467 109.8,464.5 112.9,466.4 120.6,463.5 125.6,466.4 130,468.3 135.1,471.5 138.9,472.1 143.3,470.8 147.1,467.7 150.3,470.2 154.1,468 158.6,470.8 163,470.8 166.8,468.9 170,463.2 173.1,453.1 177,454.6 180.8,463.9 184.6,465.8 188.4,468.9 193.5,470.8 197.9,472.4 200.4,471.5 203.6,467.7 207.4,465.5 211.2,467 214.4,469.8 218.8,470.8 223.9,468.9 229,468.9 233.4,466.8 237.2,467 241.7,469.6 247.4,472.1 251.2,468.3 255.6,464.5 258.2,467.7 260,469.6 263.2,471.5 267.6,467.7 271.4,462.6 274.6,458.1 278.4,456.9 282.2,449.3 285.4,444.4 289.2,450.5 293.2,455.4 296.8,451.8 300.6,447.4 304.2,450.5 308.2,446.1 312,442.3 315.5,435.3 319,442.3 322.8,448.6 326.6,454.6 330.4,456.2 334.2,451.8 338,453.7 341.5,455.9 345,451.8 347.6,443.6 350.1,439.7 353.9,437.8 360.3,437.6 364.1,441.4 367.9,440.6 371.7,439.7 375.5,434 381.8,432.8 386.9,430 390,429.2 392.5,430 397.6,434 401.4,435.6 406.5,432.8 412.2,430.2 416,431.5 419.8,437.8 424,443.2 427.4,454.3 431.2,463.2 435.4,469.6 440.8,469.6 445.8,468.9 449.6,467 452.8,460.7 455.4,453.1 457.9,445.2 461.1,446.1 464.9,444.2 468.7,438.5 472.5,438.5 476.3,433 480.1,431.8 483.9,429.6 487.7,429.6 491.5,432.8 495.3,437.2 499.1,445.5 502.9,451.8 506.8,456.9 511.8,460.1 517.5,463.2 520,461.7 525.1,459.7 532.1,461.3 537.1,468 542.8,469.3 546.6,466.4 551.1,465.1 554.9,466 558.7,462.2 562.5,465.5 568.2,465.1 573.9,465.1 577.7,467.3 581.3,459.4 585.4,466.4 589.2,468.3 594.2,468 599.3,465.8 603.8,462.6 607.6,463.5 610.7,468.3 615.2,468.3 619,462.6 622.8,459.4 626.6,456.9 630.4,452.4 634.2,448.6 638,446.1 641.8,444.2 645.6,440.4 650,439 651.9,439.7 655.7,443.2 659.5,441 664,437.8 668.4,435.9 674.4,430.9 679.2,434.7 683,438.1 686.2,439.1 689.6,437.6 693.1,444.4 697.6,448.6 701.4,452.4 704.6,454.6 708.4,448.6 712.2,457.1 716,465.5 723,466.4 726.8,468.3 730.6,470.2 734.4,470.2 738.5,471.5 742,468.3 745.2,459.4 749,455 752.8,452.1 756.6,449.3 760.5,447.6 762.6,456 764.8,460 767.4,464 772.6,469.2 776.3,471.8 779.5,472.4 781.6,469.7 783.4,467.6" fill="none" stroke="#111" stroke-width="1" stroke-linejoin="round"/>
<text transform="rotate(.05 3.8 436.4)" x="3.8" y="436.4" font-family="'Liberation Sans',Arial,sans-serif" font-weight="bold" font-size="6.45" fill="#000" stroke="#000" stroke-width="0.1">STO Slow(14,3)</text>
<g font-family="'Liberation Sans',Arial,sans-serif" font-size="6.6" fill="#222">
<text transform="rotate(.05 999.5 448.6)" x="999.5" y="448.6">60.00</text>
<path d="M993.6 437.1l3-3.4H1016.2v6.8H996.6z" fill="#fff" stroke="#222" stroke-width="0.7"/><text transform="rotate(.05 998.8 439.5)" x="998.8" y="439.5">80.00</text>
<path d="M993.6 451.8l3-3.4H1016.2v6.8H996.6z" fill="#fff" stroke="#222" stroke-width="0.7"/><text transform="rotate(.05 998.8 454.2)" x="998.8" y="454.2">50.00</text>
<clipPath id="cb"><rect x="980" y="455" width="44" height="13"/></clipPath><g clip-path="url(#cb)"><path d="M993.6 468l3-3.7H1016.2v7.4H996.6z" fill="#fff" stroke="#222" stroke-width="0.7"/><text transform="rotate(.05 998.8 470.4)" x="998.8" y="470.4">16.76</text></g>
<path d="M993.6 305.4l3-3.6H1023v7.2H996.6z" fill="#fff" stroke="#222" stroke-width="0.7"/><text transform="rotate(.05 998.8 307.8)" x="998.8" y="307.8">1.06440</text>
<path d="M993.6 285.3l3-3.6H1023.5v7.2H996.6z" fill="#c5dff0" stroke="none"/><text transform="rotate(.05 998.8 287.7)" x="998.8" y="287.7">1.06894</text>
</g>
</svg>
</body></html>
